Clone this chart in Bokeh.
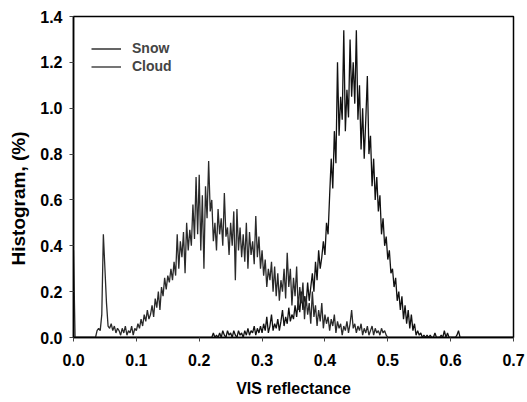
import numpy as np
from bokeh.plotting import figure
from bokeh.models import Range1d, Legend, LegendItem, FixedTicker, Title
from bokeh.embed import file_html
from bokeh.resources import INLINE

# ---------------- data ----------------
BIN_STEP = 0.0025          # width of a reflectance bin
X_TICKS = [0.0, 0.1, 0.2, 0.3, 0.4, 0.5, 0.6, 0.7]
Y_TICKS = [0.0, 0.2, 0.4, 0.6, 0.8, 1.0, 1.2, 1.4]
SERIES_NAMES = ["Snow", "Cloud"]

# Cloud histogram (%), bins from reflectance 0.0 upward
cloud_start = 0.0
cloud_values = [
    0.38, 0.0, 0.0, 0.0, 0.0, 0.0, 0.0, 0.0, 0.0, 0.0, 0.0, 0.0, 0.0, 0.0, 0.0,
    0.03, 0.04, 0.03, 0.10, 0.45, 0.30, 0.15, 0.05, 0.04, 0.06, 0.03, 0.05, 0.02,
    0.04, 0.03, 0.01, 0.04, 0.02, 0.05, 0.01, 0.03, 0.02, 0.05, 0.01, 0.04, 0.03,
    0.06, 0.04, 0.08, 0.05, 0.10, 0.07, 0.12, 0.08, 0.10, 0.14, 0.09, 0.17, 0.13,
    0.20, 0.12, 0.22, 0.18, 0.26, 0.21, 0.27, 0.24, 0.30, 0.25, 0.33, 0.27, 0.45,
    0.30, 0.42, 0.35, 0.46, 0.28, 0.50, 0.38, 0.47, 0.40, 0.58, 0.43, 0.70, 0.45,
    0.71, 0.38, 0.62, 0.30, 0.66, 0.52, 0.77, 0.55, 0.60, 0.42, 0.50, 0.38, 0.56,
    0.45, 0.52, 0.40, 0.63, 0.44, 0.48, 0.36, 0.50, 0.40, 0.55, 0.25, 0.56, 0.38,
    0.48, 0.35, 0.45, 0.33, 0.50, 0.30, 0.46, 0.36, 0.42, 0.32, 0.53, 0.35, 0.44,
    0.30, 0.38, 0.27, 0.34, 0.22, 0.30, 0.25, 0.33, 0.20, 0.31, 0.18, 0.28, 0.16,
    0.25, 0.20, 0.30, 0.17, 0.37, 0.22, 0.30, 0.14, 0.26, 0.18, 0.31, 0.12, 0.22,
    0.15, 0.24, 0.08, 0.18, 0.10, 0.15, 0.06, 0.20, 0.09, 0.14, 0.05, 0.12, 0.07,
    0.15, 0.04, 0.10, 0.06, 0.09, 0.03, 0.08, 0.05, 0.10, 0.02, 0.07, 0.04, 0.06,
    0.01, 0.05, 0.03, 0.07, 0.02, 0.06, 0.12, 0.04, 0.06, 0.02, 0.05, 0.03, 0.06,
    0.01, 0.04, 0.02, 0.05, 0.01, 0.03, 0.05, 0.01, 0.04, 0.02, 0.03, 0.01, 0.04,
    0.02, 0.03, 0.01, 0.0,
]

# Snow histogram (%), bins from reflectance 0.22 upward
snow_start = 0.22
snow_values = [
    0.00, 0.02, 0.00, 0.01, 0.00, 0.02, 0.00, 0.03, 0.01, 0.00, 0.03, 0.01, 0.02,
    0.00, 0.03, 0.01, 0.00, 0.03, 0.01, 0.02, 0.00, 0.03, 0.01, 0.04, 0.01, 0.03,
    0.02, 0.05, 0.01, 0.04, 0.02, 0.05, 0.02, 0.06, 0.03, 0.09, 0.02, 0.05, 0.10,
    0.03, 0.06, 0.04, 0.08, 0.03, 0.07, 0.12, 0.05, 0.09, 0.06, 0.13, 0.07, 0.10,
    0.08, 0.14, 0.09, 0.16, 0.11, 0.20, 0.12, 0.18, 0.14, 0.24, 0.16, 0.22, 0.28,
    0.20, 0.33, 0.25, 0.38, 0.30, 0.35, 0.42, 0.36, 0.50, 0.45, 0.62, 0.78, 0.65,
    0.90, 0.76, 1.20, 0.88, 1.05, 0.95, 1.34, 0.90, 1.08, 0.96, 1.30, 1.05, 1.20,
    1.02, 1.34, 0.95, 1.10, 0.82, 1.00, 0.78, 0.95, 1.14, 0.80, 0.88, 0.66, 0.78,
    0.60, 0.70, 0.55, 0.62, 0.45, 0.52, 0.40, 0.44, 0.34, 0.38, 0.28, 0.30, 0.22,
    0.26, 0.16, 0.20, 0.12, 0.18, 0.08, 0.14, 0.06, 0.12, 0.04, 0.10, 0.03, 0.06,
    0.01, 0.03, 0.01, 0.02, 0.00, 0.01, 0.00, 0.01, 0.00, 0.01, 0.00, 0.00, 0.02,
    0.00, 0.00, 0.00, 0.01, 0.00, 0.03, 0.00, 0.02, 0.00, 0.00, 0.00, 0.00, 0.00,
    0.01, 0.03, 0.00,
]


def bins(start, values, end=0.7):
    """Bin positions for the listed values, padded with empty bins to the axis end."""
    x = list(start + BIN_STEP * np.arange(len(values)))
    y = list(values)
    nxt = x[-1] + BIN_STEP
    while nxt <= end + 1e-9:
        x.append(nxt)
        y.append(0.0)
        nxt += BIN_STEP
    if start > 0:
        x = [0.0] + x
        y = [0.0] + y
    return x, y


snow_x, snow_y = bins(snow_start, snow_values)
cloud_x, cloud_y = bins(cloud_start, cloud_values)

# ---------------- figure ----------------
FONT = "Liberation Sans"
p = figure(width=527, height=402, output_backend="svg", toolbar_location=None,
           x_range=Range1d(0, 0.7), y_range=Range1d(0, 1.4),
           min_border_left=73, min_border_right=14, min_border_top=16,
           min_border_bottom=65)
p.background_fill_color = "white"
p.border_fill_color = "white"
p.outline_line_color = "black"
p.outline_line_width = 1.5
p.grid.visible = False

r_snow = p.line(snow_x, snow_y, line_color="#111111", line_width=1.3)
r_cloud = p.line(cloud_x, cloud_y, line_color="#2a2a2a", line_width=1.3)

for ax in (p.xaxis[0], p.yaxis[0]):
    ax.axis_line_color = "black"
    ax.axis_line_width = 1.5
    ax.major_tick_line_color = "#444444"
    ax.major_tick_in = 0
    ax.major_tick_out = 4
    ax.minor_tick_line_color = None
    ax.major_label_text_font = FONT
    ax.major_label_text_font_style = "bold"
    ax.major_label_text_font_size = "16px"
    ax.major_label_text_color = "black"
    ax.axis_label_text_font = FONT
    ax.axis_label_text_font_style = "bold"
    ax.axis_label_text_color = "black"

p.xaxis[0].ticker = FixedTicker(ticks=X_TICKS)
p.yaxis[0].ticker = FixedTicker(ticks=Y_TICKS)
p.xaxis[0].major_label_overrides = {t: f"{t:.1f}" for t in X_TICKS}
p.yaxis[0].major_label_overrides = {t: f"{t:.1f}" for t in Y_TICKS}
p.xaxis[0].major_label_standoff = 12
p.yaxis[0].major_label_standoff = 7

p.xaxis[0].axis_label = "VIS reflectance"
p.xaxis[0].axis_label_text_font_size = "16px"
p.xaxis[0].axis_label_standoff = 11

# y-axis title, set somewhat below the frame centre as in the original
ytitle = Title(text="Histogram, (%)", align="left", offset=72, standoff=13,
               vertical_align="top",
               text_font=FONT, text_font_style="bold", text_font_size="19px",
               text_color="black")
p.add_layout(ytitle, "left")

legend = Legend(items=[LegendItem(label=SERIES_NAMES[0], renderers=[r_snow]),
                       LegendItem(label=SERIES_NAMES[1], renderers=[r_cloud])],
                location=(18, 263), margin=0, padding=5, spacing=2,
                glyph_width=30, glyph_height=15, label_height=15,
                label_standoff=11, label_text_font=FONT,
                label_text_font_style="bold", label_text_font_size="14px",
                border_line_color=None, background_fill_alpha=0)
p.add_layout(legend, "center")

open("out.html", "w").write(file_html(p, INLINE))
